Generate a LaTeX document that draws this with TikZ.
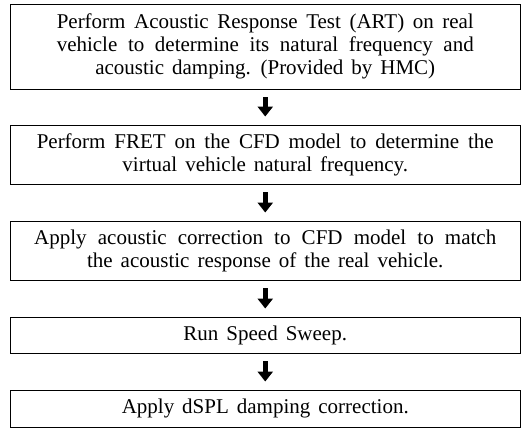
\documentclass[tikz,border=0pt]{standalone}
\usepackage{fontspec}
\setmainfont{Liberation Serif}
\usetikzlibrary{arrows.meta}
\newcommand\jl[2]{\makebox[#1][s]{#2}}
\newcommand\boxfont{\fontsize{21}{23}\selectfont\spaceskip=0.38em plus 0.5em minus 0.05em\relax}
\tikzset{
  stepbox/.style={draw=black, line width=0.9pt, minimum width=509.5pt, inner sep=0pt,
    align=center, text=black, font=\boxfont},
  flowarrow/.style={line width=5pt, black,
    -{Triangle[width=15pt,length=10pt]}, shorten <=8pt, shorten >=8pt}
}
\begin{document}
\begin{tikzpicture}[x=1pt,y=-1pt]
\useasboundingbox (0,0) rectangle (530,428);
\node[stepbox, minimum height=85pt] (b1) at (265.25,46.5)
  {\jl{417pt}{Perform Acoustic Response Test (ART) on real}\\
   \jl{417pt}{vehicle to determine its natural frequency and}\\
   acoustic damping. (Provided by HMC)};
\node[stepbox, minimum height=59pt] (b2) at (265.25,154.5)
  {\jl{457pt}{Perform FRET on the CFD model to determine the}\\
   virtual vehicle natural frequency.};
\node[stepbox, minimum height=59pt] (b3) at (265.25,250.5)
  {\jl{462pt}{Apply acoustic correction to CFD model to match}\\
   the acoustic response of the real vehicle.};
\node[stepbox, minimum height=36pt] (b4) at (265.25,335) {Run Speed Sweep.};
\node[stepbox, minimum height=37pt] (b5) at (265.25,408.5) {Apply dSPL damping correction.};
\draw[flowarrow] (b1.south) -- (b2.north);
\draw[flowarrow] (b2.south) -- (b3.north);
\draw[flowarrow] (b3.south) -- (b4.north);
\draw[flowarrow] (b4.south) -- (b5.north);
\end{tikzpicture}
\end{document}
